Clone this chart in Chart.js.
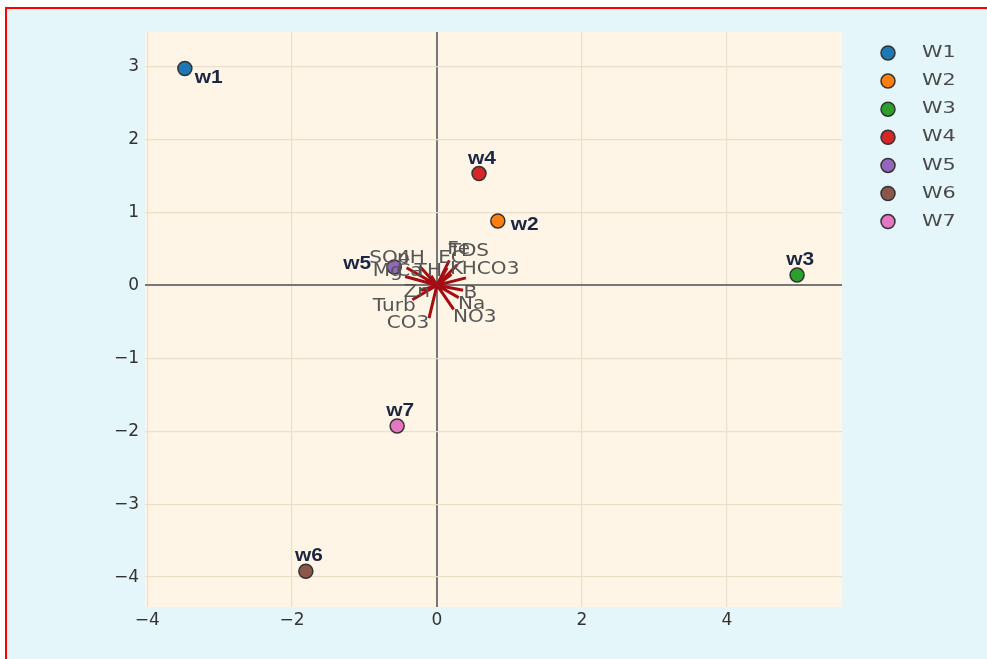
<!DOCTYPE HTML>
<html>
<head>
    <title>Biplot</title>
    <meta charset="utf-8" />
    <script src="https://cdn.jsdelivr.net/npm/chart.js@4.4.1/dist/chart.umd.min.js"></script>
    <style>
        body { margin: 0; background: #fff; }
        #wrap { position: absolute; left: 0; top: 0; width: 987px; height: 659px; }
    </style>
    <script>
        // samples (PC1, PC2 scores)
        const wells = ['w1', 'w2', 'w3', 'w4', 'w5', 'w6', 'w7'];
        const legend_names = ['W1', 'W2', 'W3', 'W4', 'W5', 'W6', 'W7'];
        const pc1 = [-3.48, 0.84, 4.97, 0.58, -0.59, -1.81, -0.55];
        const pc2 = [2.97, 0.88, 0.14, 1.53, 0.25, -3.92, -1.93];
        const well_colors = ['#1f77b4', '#ff7f0e', '#2ca02c', '#d62728', '#9467bd', '#8c564b', '#e377c2'];
        const label_side = ['below-right', 'right', 'top', 'top', 'left', 'top', 'top'];

        // loadings (variable vectors) and where their names sit
        const variables = ['SO4', 'pH', 'Mg', 'Ca', 'TH', 'EC', 'Fe', 'TDS', 'K', 'HCO3', 'Zn', 'Turb', 'CO3', 'B', 'Na', 'NO3'];
        const load_x = [-0.42, -0.24, -0.44, -0.24, -0.08, 0.14, 0.17, 0.28, 0.20, 0.40, -0.22, -0.34, -0.11, 0.36, 0.30, 0.23];
        const load_y = [0.24, 0.26, 0.12, 0.14, 0.13, 0.24, 0.34, 0.28, 0.15, 0.10, -0.07, -0.20, -0.45, -0.07, -0.17, -0.33];
        const label_x = [-0.65, -0.36, -0.68, -0.38, -0.12, 0.20, 0.30, 0.44, 0.27, 0.74, -0.28, -0.59, -0.40, 0.46, 0.48, 0.52];
        const label_y = [0.37, 0.37, 0.19, 0.19, 0.19, 0.37, 0.49, 0.46, 0.21, 0.21, -0.10, -0.29, -0.52, -0.12, -0.27, -0.45];

        const x_ticks = [-4, -2, 0, 2, 4];
        const y_ticks = [-4, -3, -2, -1, 0, 1, 2, 3];
        const x_range = [-4.03, 5.59];
        const y_range = [-4.41, 3.47];

        const tick_font = { family: 'DejaVu Sans', size: 17 };
        const grid_color = '#ebdfc8';
        const zero_color = '#777777';
    </script>
</head>

<body>
    <div id="wrap"><canvas id="chartCanvas" width="987" height="659"></canvas></div>

    <script>
        const minus = v => String(v).replace('-', '\u2212');

        // text stretched sideways, the reference text is wider than DejaVu
        function wide_text(ctx, text, x, y, sx, align) {
            ctx.save();
            ctx.translate(x, y);
            ctx.scale(sx, 1);
            ctx.textAlign = align;
            ctx.fillText(text, 0, 0);
            ctx.restore();
        }

        // page background, red frame and plot area colour
        const backdrop = {
            id: 'backdrop',
            beforeDraw(chart) {
                const ctx = chart.ctx;
                const a = chart.chartArea;
                ctx.save();
                ctx.fillStyle = '#ffffff';
                ctx.fillRect(0, 0, chart.width, chart.height);
                ctx.fillStyle = '#e5f6fa';
                ctx.fillRect(6, 8, chart.width - 6, chart.height - 8);
                ctx.strokeStyle = '#ff0000';
                ctx.lineWidth = 2;
                ctx.beginPath();
                ctx.moveTo(6, chart.height);
                ctx.lineTo(6, 8);
                ctx.lineTo(chart.width, 8);
                ctx.stroke();
                ctx.fillStyle = '#fef5e6';
                ctx.fillRect(a.left, a.top, a.right - a.left, a.bottom - a.top);
                ctx.restore();
            }
        };

        // text labels for samples and variables, plus legend
        const labels = {
            id: 'labels',
            afterDatasetsDraw(chart) {
                const ctx = chart.ctx;
                const xs = chart.scales.x, ys = chart.scales.y;
                ctx.save();
                ctx.font = '17px "DejaVu Sans"';
                ctx.fillStyle = '#555555';
                ctx.textBaseline = 'middle';
                variables.forEach((v, i) => {
                    wide_text(ctx, v, xs.getPixelForValue(label_x[i]), ys.getPixelForValue(label_y[i]), 1.18, 'center');
                });

                ctx.font = 'bold 19px "Liberation Sans"';
                ctx.fillStyle = '#1c2541';
                wells.forEach((w, i) => {
                    const px = xs.getPixelForValue(pc1[i]);
                    const py = ys.getPixelForValue(pc2[i]);
                    const side = label_side[i];
                    if (side === 'top') {
                        wide_text(ctx, w, px + 3, py - 15, 1.1, 'center');
                    } else if (side === 'right') {
                        wide_text(ctx, w, px + 13, py + 4, 1.1, 'left');
                    } else if (side === 'left') {
                        wide_text(ctx, w, px - 23, py - 3, 1.1, 'right');
                    } else {
                        wide_text(ctx, w, px + 10, py + 9, 1.1, 'left');
                    }
                });
                ctx.restore();
            },
            afterDraw(chart) {
                const ctx = chart.ctx;
                ctx.save();
                ctx.font = '16px "DejaVu Sans"';
                ctx.textBaseline = 'middle';
                legend_names.forEach((n, i) => {
                    const y = 53 + i * 28.1;
                    ctx.beginPath();
                    ctx.arc(888, y, 7, 0, Math.PI * 2);
                    ctx.fillStyle = well_colors[i];
                    ctx.fill();
                    ctx.lineWidth = 1.5;
                    ctx.strokeStyle = '#333333';
                    ctx.stroke();
                    ctx.fillStyle = '#4a4a4a';
                    wide_text(ctx, n, 922, y, 1.3, 'left');
                });
                ctx.restore();
            }
        };

        const vector_data = [];
        variables.forEach((v, i) => {
            vector_data.push({ x: 0, y: 0 });
            vector_data.push({ x: load_x[i], y: load_y[i] });
            vector_data.push({ x: load_x[i], y: null });
        });

        const datasets = [{
            type: 'line',
            label: 'loadings',
            data: vector_data,
            borderColor: '#a50d12',
            borderWidth: 3,
            pointRadius: 0,
            spanGaps: false,
            fill: false,
            order: 1
        }];
        wells.forEach((w, i) => {
            datasets.push({
                type: 'scatter',
                label: legend_names[i],
                data: [{ x: pc1[i], y: pc2[i] }],
                backgroundColor: well_colors[i],
                borderColor: '#333333',
                borderWidth: 1.5,
                pointRadius: 7,
                order: 0
            });
        });

        const grid_cb = ctx => ctx.tick && ctx.tick.value === 0 ? zero_color : grid_color;
        const width_cb = ctx => ctx.tick && ctx.tick.value === 0 ? 2 : 1.2;

        new Chart(document.getElementById('chartCanvas'), {
            type: 'scatter',
            data: { datasets: datasets },
            options: {
                responsive: false,
                animation: false,
                layout: { padding: { left: 0, top: 32, right: 145, bottom: 0 } },
                plugins: { legend: { display: false }, tooltip: { enabled: false } },
                scales: {
                    x: {
                        type: 'linear',
                        min: x_range[0],
                        max: x_range[1],
                        afterBuildTicks: s => { s.ticks = x_ticks.map(v => ({ value: v })); },
                        afterFit: s => { s.height = 52; },
                        grid: { color: grid_cb, lineWidth: width_cb, drawTicks: false },
                        border: { display: false },
                        ticks: { color: '#333333', font: tick_font, padding: 3, maxRotation: 0, callback: minus }
                    },
                    y: {
                        type: 'linear',
                        min: y_range[0],
                        max: y_range[1],
                        afterBuildTicks: s => { s.ticks = y_ticks.map(v => ({ value: v })); },
                        afterFit: s => { s.width = 145; },
                        grid: { color: grid_cb, lineWidth: width_cb, drawTicks: false },
                        border: { display: false },
                        ticks: { color: '#333333', font: tick_font, padding: 6, callback: minus }
                    }
                }
            },
            plugins: [backdrop, labels]
        });
    </script>
</body>
</html>
